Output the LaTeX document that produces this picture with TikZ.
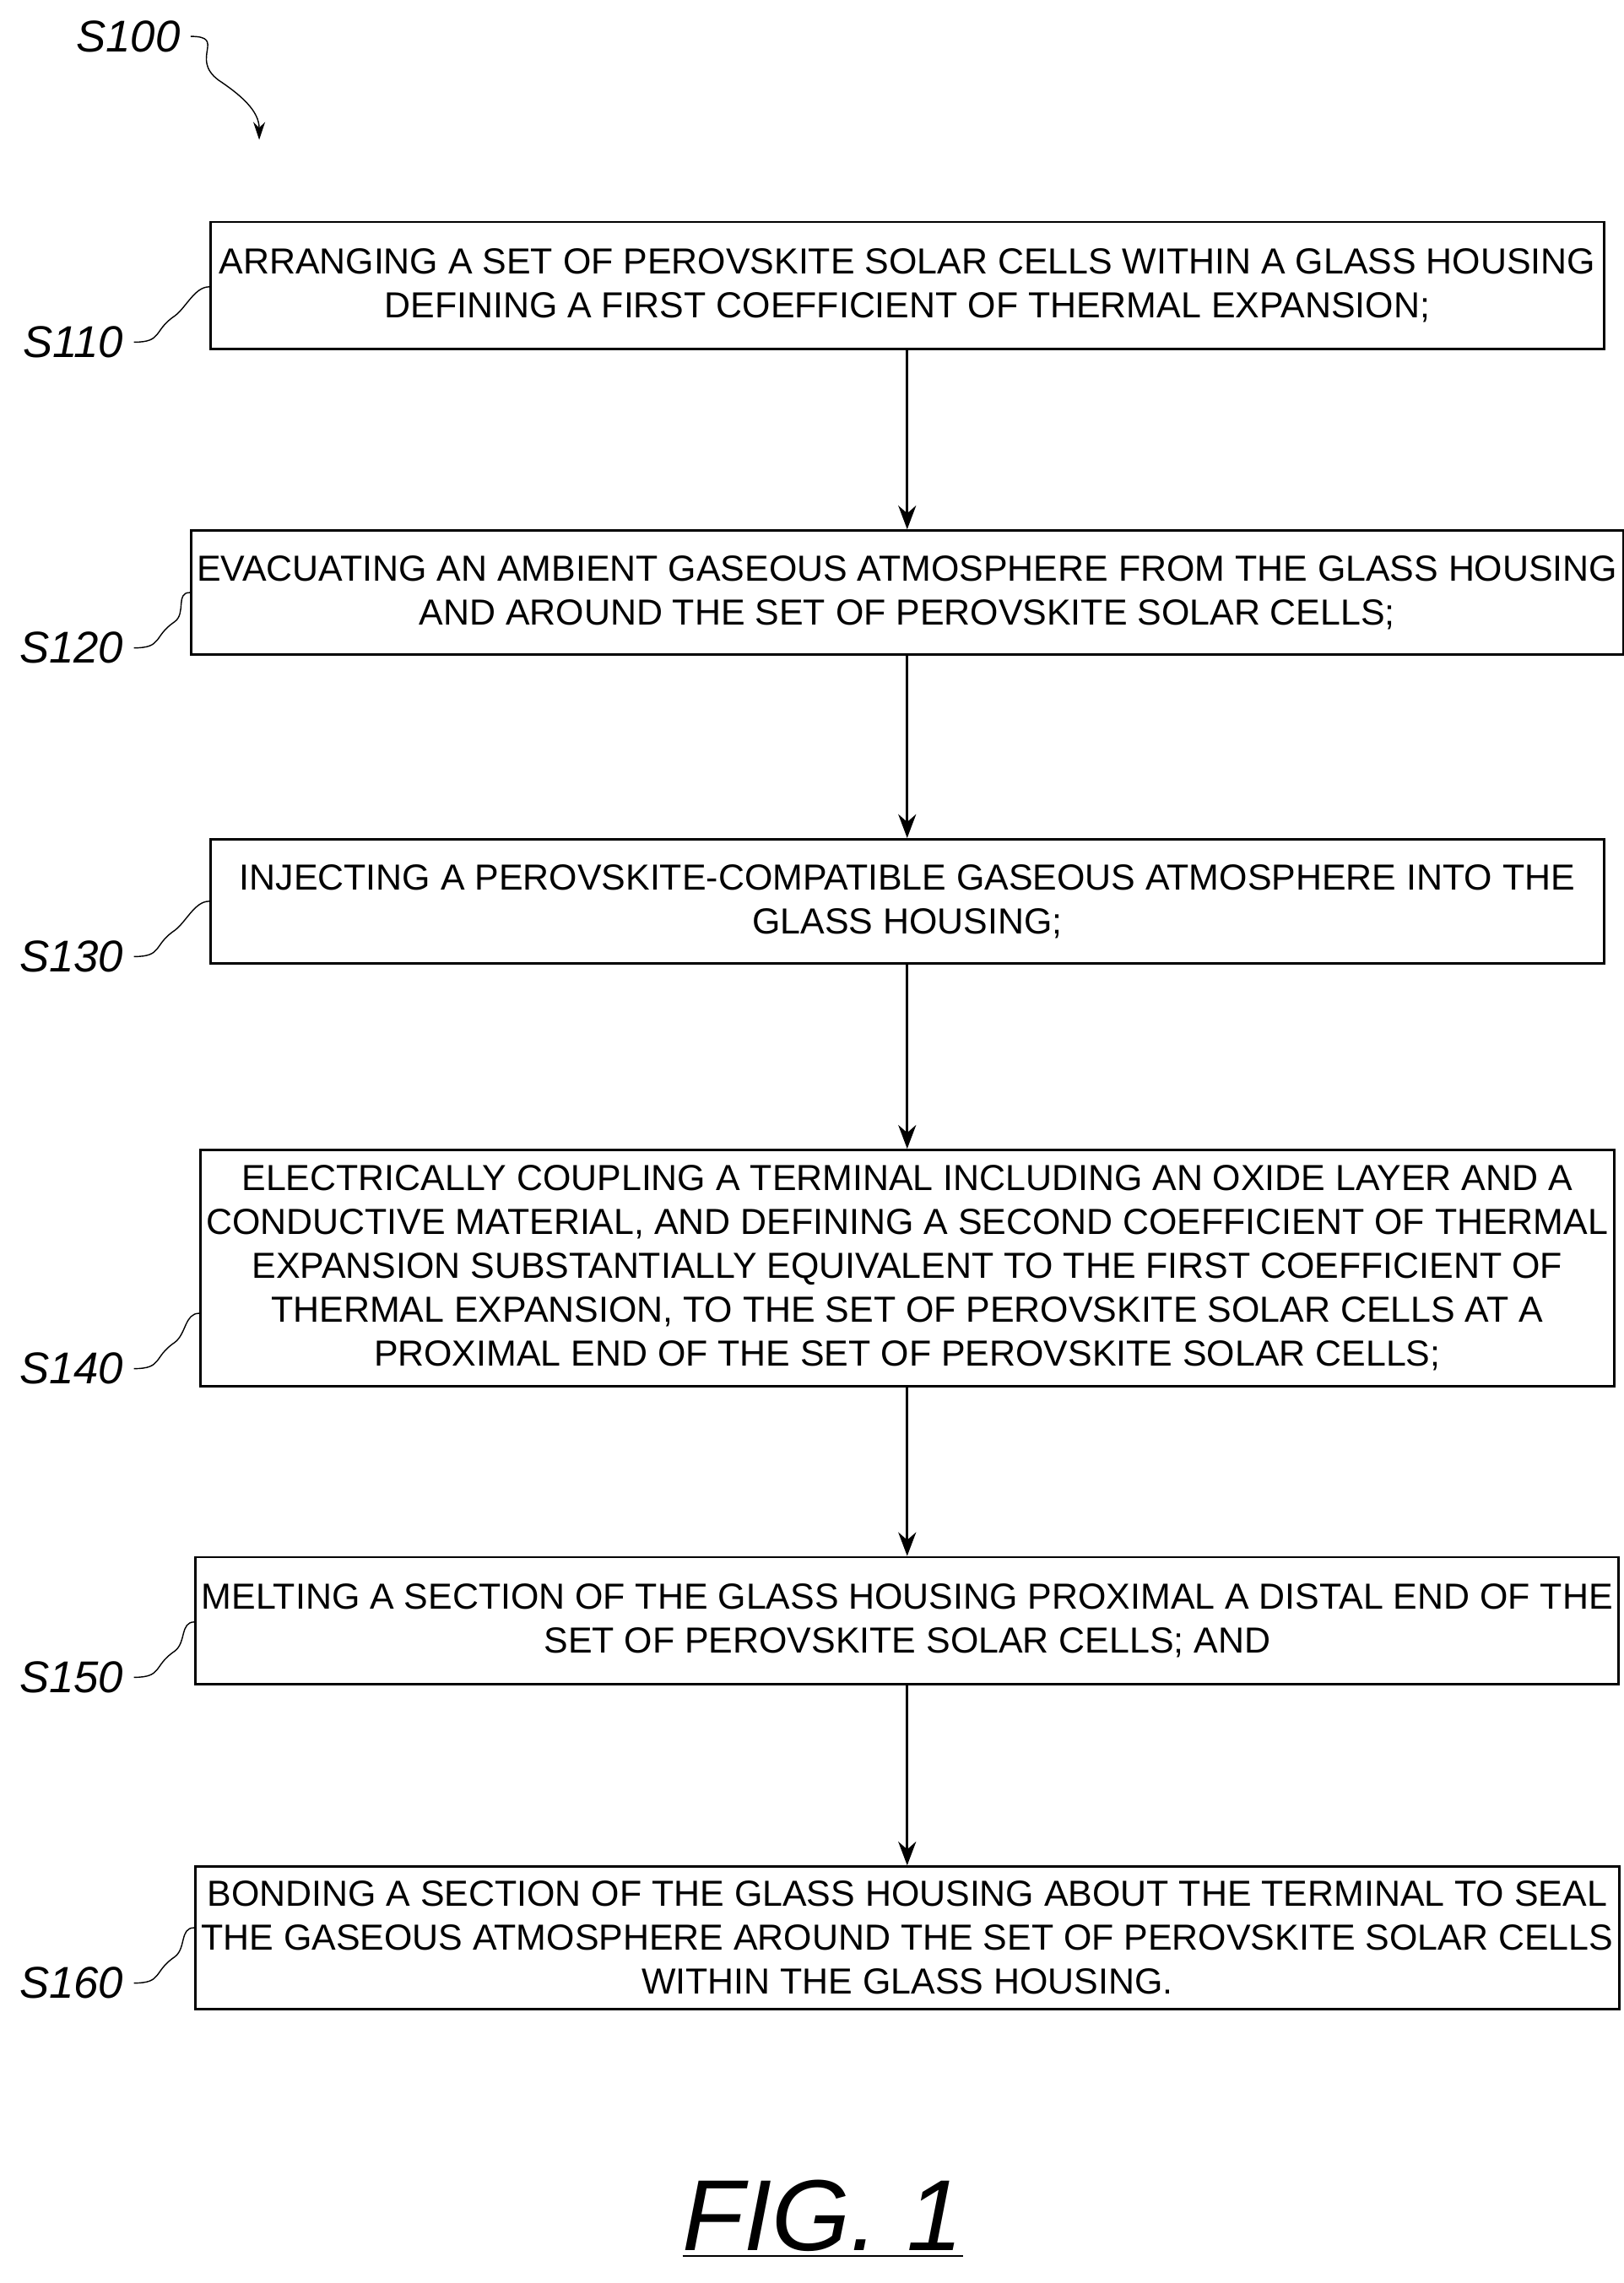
\documentclass[tikz,border=0pt]{standalone}
\usepackage{fontspec}
\setmainfont{Liberation Sans}
\usetikzlibrary{positioning,arrows.meta}
\tikzset{
  stepbox/.style={draw, thick, minimum width=16.5cm, align=center,
    font=\fontsize{12.2}{14.8}\selectfont, inner sep=2pt},
  lbl/.style={font=\itshape\fontsize{15}{18}\selectfont},
  flow/.style={-{Stealth[length=8pt,width=6pt]}, thick},
  lead/.style={thin}
}
\begin{document}
\begin{tikzpicture}[x=0.017245cm, y=-0.017245cm]
  \useasboundingbox (0,0) rectangle (1115,1568);

  % steps
  \node[stepbox, minimum height=1.5cm] (s110) at (623,196) {ARRANGING A SET OF PEROVSKITE SOLAR CELLS WITHIN A GLASS HOUSING\\ DEFINING A FIRST COEFFICIENT OF THERMAL EXPANSION;};
  \node[stepbox, minimum height=1.47cm] (s120) at (623,407) {EVACUATING AN AMBIENT GASEOUS ATMOSPHERE FROM THE GLASS HOUSING\\ AND AROUND THE SET OF PEROVSKITE SOLAR CELLS;};
  \node[stepbox, minimum height=1.47cm] (s130) at (623,619) {INJECTING A PEROVSKITE-COMPATIBLE GASEOUS ATMOSPHERE INTO THE\\ GLASS HOUSING;};
  \node[stepbox, minimum height=2.8cm] (s140) at (623,871) {ELECTRICALLY COUPLING A TERMINAL INCLUDING AN OXIDE LAYER AND A\\ CONDUCTIVE MATERIAL, AND DEFINING A SECOND COEFFICIENT OF THERMAL\\ EXPANSION SUBSTANTIALLY EQUIVALENT TO THE FIRST COEFFICIENT OF\\ THERMAL EXPANSION, TO THE SET OF PEROVSKITE SOLAR CELLS AT A\\ PROXIMAL END OF THE SET OF PEROVSKITE SOLAR CELLS;};
  \node[stepbox, minimum height=1.5cm] (s150) at (623,1113) {MELTING A SECTION OF THE GLASS HOUSING PROXIMAL A DISTAL END OF THE\\ SET OF PEROVSKITE SOLAR CELLS; AND};
  \node[stepbox, minimum height=1.69cm] (s160) at (623,1331) {BONDING A SECTION OF THE GLASS HOUSING ABOUT THE TERMINAL TO SEAL\\ THE GASEOUS ATMOSPHERE AROUND THE SET OF PEROVSKITE SOLAR CELLS\\ WITHIN THE GLASS HOUSING.};

  % arrows
  \draw[flow] (s110) -- (s120);
  \draw[flow] (s120) -- (s130);
  \draw[flow] (s130) -- (s140);
  \draw[flow] (s140) -- (s150);
  \draw[flow] (s150) -- (s160);

  % labels
  \foreach \n/\y in {110/235, 120/445, 130/657, 140/940, 150/1152, 160/1362}{
    \node[lbl, anchor=east] (l\n) at (92,\y) {S\n};
    \draw[lead] (l\n.east) .. controls ++(20,0) and ++(-15,10) .. ++(28,-18)
      .. controls ++(8,-6) and ++(-10,0) .. (s\n.west |- 0,\y-38);
  }

  % overall label
  \node[lbl] (s100) at (88,25) {S100};
  \coordinate (s100tip) at (178,96);
  \draw[lead, -{Stealth[length=6pt,width=4pt]}] (s100.east) .. controls ++(25,0) and ++(-20,-15) .. (150,55)
    .. controls ++(15,10) and ++(0,-20) .. (s100tip);

  % figure caption
  \node[font=\itshape\fontsize{34}{40}\selectfont] (fig) at (565,1524) {\underline{FIG. 1}};
\end{tikzpicture}
\end{document}
